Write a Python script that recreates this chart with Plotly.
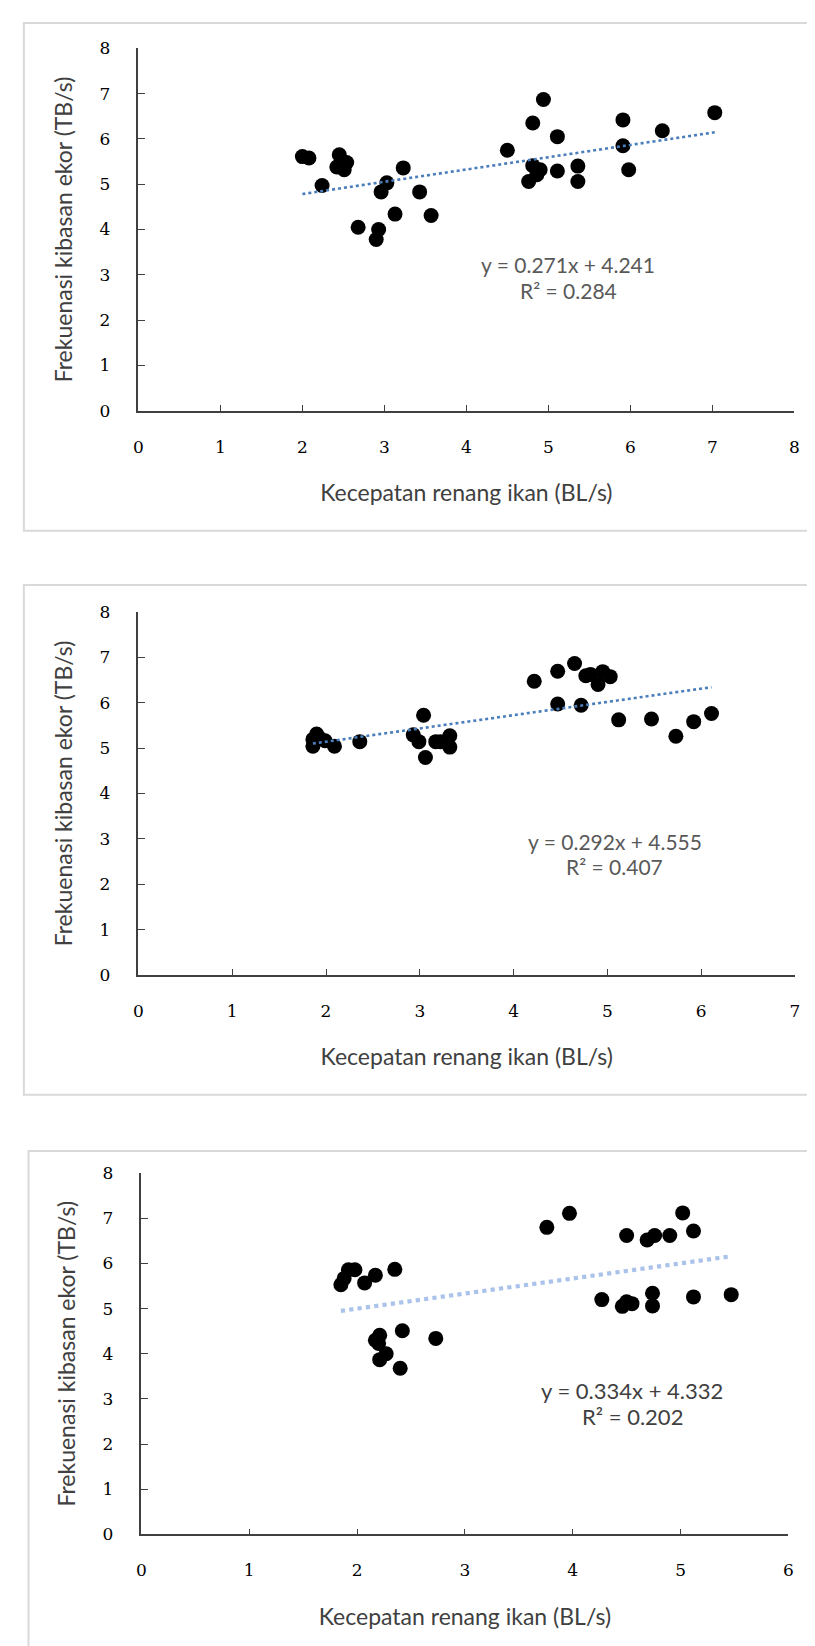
import plotly.graph_objects as go

# ---------------- data ----------------
x1 = [2.00, 2.08, 2.24, 2.45, 2.42, 2.51, 2.54, 2.68, 2.93, 2.90, 2.96, 3.03, 3.13, 3.23, 3.43, 3.57,
      4.50, 4.81, 4.94, 4.76, 4.81, 4.86, 4.90, 5.11, 5.11, 5.36, 5.36, 5.91, 5.91, 5.98, 6.39, 7.03]
y1 = [5.61, 5.58, 4.97, 5.65, 5.38, 5.32, 5.48, 4.05, 4.00, 3.78, 4.83, 5.03, 4.34, 5.36, 4.83, 4.31,
      5.75, 6.35, 6.87, 5.06, 5.41, 5.21, 5.32, 6.05, 5.29, 5.40, 5.06, 6.42, 5.85, 5.32, 6.18, 6.58]

x2 = [1.86, 1.90, 1.86, 1.93, 1.99, 2.09, 2.36, 2.93, 3.04, 2.99, 3.06, 3.17, 3.22, 3.32, 3.32,
      4.22, 4.47, 4.65, 4.47, 4.72, 4.77, 4.82, 4.90, 4.95, 5.03, 5.12, 5.47, 5.73, 5.92, 6.11]
y2 = [5.19, 5.31, 5.04, 5.22, 5.16, 5.04, 5.14, 5.29, 5.72, 5.14, 4.79, 5.14, 5.14, 5.27, 5.02,
      6.47, 6.69, 6.86, 5.97, 5.94, 6.59, 6.62, 6.40, 6.68, 6.57, 5.62, 5.64, 5.26, 5.58, 5.76]

x3 = [1.85, 1.88, 1.92, 1.98, 2.07, 2.17, 2.35, 2.17, 2.21, 2.20, 2.21, 2.27, 2.42, 2.40, 2.73,
      3.76, 3.97, 4.27, 4.46, 4.50, 4.55, 4.50, 4.69, 4.76, 4.90, 4.74, 4.74, 5.02, 5.12, 5.12, 5.47]
y3 = [5.53, 5.67, 5.86, 5.86, 5.57, 5.74, 5.87, 4.30, 4.41, 4.23, 3.87, 4.00, 4.51, 3.68, 4.34,
      6.80, 7.11, 5.20, 5.05, 5.15, 5.11, 6.62, 6.52, 6.62, 6.62, 5.34, 5.06, 7.12, 6.72, 5.26, 5.31]

slopes = [0.271, 0.292, 0.334]
intercepts = [4.241, 4.555, 4.332]
r2_values = [0.284, 0.407, 0.202]
x_max = [8, 7, 6]
y_ticks = [0, 1, 2, 3, 4, 5, 6, 7, 8]
x_title = "Kecepatan renang ikan (BL/s)"
y_title = "Frekuenasi kibasan ekor (TB/s)"

# ---------------- layout geometry (pixels) ----------------
W, H = 815, 1646
# (x0_px, x1_px, ybottom_px, ytop_px)
plot_px = [(127, 791, 397.5, 30.7), (127, 791.7, 969, 601), (130, 785, 1535, 1169.4)]
box_px = [(11, 820, 5, 519), (11, 820, 574, 1090), (15.7, 820, 1147, 1652)]
eq_pos = [(5.24, 3.22, 2.65), (5.08, 2.95, 2.40), (4.55, 3.18, 2.60)]
trend_colors = ["#4a7ebb", "#4a7ebb", "#aac3ea"]
trend_widths = [2.6, 2.6, 4.2]
eq_colors = ["#595959", "#595959", "#404040"]
eq_sizes = [21, 21, 22]

fig = go.Figure()
datasets = [(x1, y1), (x2, y2), (x3, y3)]
layout = {}
shapes = []
annotations = []

for i, (xs, ys) in enumerate(datasets):
    n = i + 1
    xa = "x" if n == 1 else f"x{n}"
    ya = "y" if n == 1 else f"y{n}"
    fig.add_trace(go.Scatter(
        x=xs, y=ys, mode="markers", xaxis=xa, yaxis=ya,
        marker=dict(color="black", size=15, line=dict(width=0)),
        showlegend=False, hoverinfo="x+y"))
    lo, hi = min(xs), max(xs)
    fig.add_trace(go.Scatter(
        x=[lo, hi], y=[slopes[i] * lo + intercepts[i], slopes[i] * hi + intercepts[i]],
        mode="lines", xaxis=xa, yaxis=ya,
        line=dict(color=trend_colors[i], width=trend_widths[i], dash="dot"),
        showlegend=False, hoverinfo="skip"))

    px0, px1, pyb, pyt = plot_px[i]
    axis_common = dict(
        showline=True, linecolor="#404040", linewidth=1.5,
        ticks="inside", tickcolor="#404040", tickwidth=1.3,
        showgrid=False, zeroline=False,
        tickfont=dict(family="DejaVu Serif", size=17, color="black"),
        title_font=dict(family="Lato", size=23, color="#404040"),
    )
    layout["xaxis" if n == 1 else f"xaxis{n}"] = dict(
        axis_common,
        domain=[px0 / W, px1 / W], anchor=ya,
        range=[0, x_max[i]], tickmode="array",
        tickvals=list(range(0, x_max[i] + 1)), ticklen=6,
        ticklabelstandoff=20,
        title=dict(text=x_title, standoff=29),
    )
    layout["yaxis" if n == 1 else f"yaxis{n}"] = dict(
        axis_common,
        domain=[1 - pyb / H, 1 - pyt / H], anchor=xa,
        range=[0, 8], tickmode="array", tickvals=y_ticks, ticklen=7,
        ticklabelstandoff=23,
        title=dict(text=y_title, standoff=20),
    )
    bx0, bx1, by0, by1 = box_px[i]
    shapes.append(dict(type="rect", xref="paper", yref="paper",
                       x0=bx0 / W, x1=bx1 / W, y0=1 - by1 / H, y1=1 - by0 / H,
                       line=dict(color="#d9d9d9", width=2), fillcolor="rgba(0,0,0,0)",
                       layer="below"))
    ex, ey1, ey2 = eq_pos[i]
    annotations.append(dict(
        x=ex, y=ey1, xref=xa, yref=ya, showarrow=False,
        text=f"y = {slopes[i]:.3f}x + {intercepts[i]:.3f}",
        font=dict(family="Lato", size=eq_sizes[i], color=eq_colors[i])))
    annotations.append(dict(
        x=ex, y=ey2, xref=xa, yref=ya, showarrow=False,
        text=f"R² = {r2_values[i]:.3f}",
        font=dict(family="Lato", size=eq_sizes[i], color=eq_colors[i])))

fig.update_layout(
    width=W, height=H,
    margin=dict(l=0, r=0, t=0, b=0),
    paper_bgcolor="white", plot_bgcolor="white",
    shapes=shapes, annotations=annotations,
    **layout,
)

fig.write_html("out.html")
